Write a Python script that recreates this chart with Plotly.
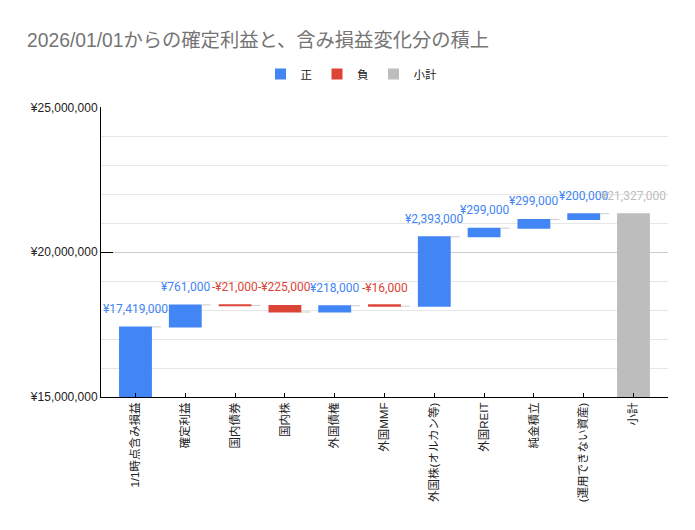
import plotly.graph_objects as go

categories = ["1/1時点含み損益", "確定利益", "国内債券", "国内株", "外国債権", "外国MMF",
              "外国株(オルカン等)", "外国REIT", "純金積立", "(運用できない資産)", "小計"]
values = [17419000, 761000, -21000, -225000, 218000, -16000, 2393000, 299000, 299000, 200000, 0]
measures = ["relative"] * 10 + ["total"]

BLUE = "#4285F4"
RED = "#DB4437"
GREY = "#BDBDBD"
FONT = "Roboto, Noto Sans CJK JP, sans-serif"
TITLEFONT = "Liberation Sans, Noto Sans CJK JP, sans-serif"
TICKFONT = "Liberation Sans, Noto Sans CJK JP, sans-serif"

# the page body has an 8px margin, so the figure is a bit smaller than the window
W, H = 687, 522


def yen(v):
    return ("-" if v < 0 else "") + "¥{:,}".format(abs(v))


fig = go.Figure()
fig.add_trace(go.Waterfall(
    x=categories, y=values, measure=measures, showlegend=False,
    increasing=dict(marker=dict(color=BLUE)),
    decreasing=dict(marker=dict(color=RED)),
    totals=dict(marker=dict(color=GREY)),
    connector=dict(line=dict(color="#cccccc", width=1, dash="dash")),
    hoverinfo="skip",
))

# dummy entries for the legend
for name, col in [("正", BLUE), ("負", RED), ("小計", GREY)]:
    fig.add_trace(go.Scatter(x=[None], y=[None], mode="markers", name=name,
                             marker=dict(symbol="square", size=11, color=col)))

# data labels above each bar
annos = []
running = 0
for cat, v, m in zip(categories, values, measures):
    if m == "total":
        top, txt, col = running, yen(running), GREY
    else:
        top = max(running, running + v)
        txt = yen(v)
        col = BLUE if v >= 0 else RED
        running += v
    annos.append(dict(x=cat, y=top, text=txt, showarrow=False, yanchor="bottom",
                      yshift=9, font=dict(family=FONT, size=12, color=col)))

fig.update_layout(
    width=W, height=H,
    margin=dict(l=93, r=27, t=98, b=133),
    paper_bgcolor="white", plot_bgcolor="white",
    waterfallgap=0.34,
    title=dict(text="2026/01/01からの確定利益と、含み損益変化分の積上",
               x=19 / W, xanchor="left", xref="container",
               y=1 - 32 / H, yanchor="middle", yref="container",
               font=dict(family=TITLEFONT, size=19.3, color="#757575")),
    legend=dict(orientation="h", x=0.5, xanchor="center", xref="container",
                y=1 - 66 / H, yanchor="middle", yref="container",
                font=dict(family=TICKFONT, size=11.5, color="#222222"),
                itemclick=False),
    annotations=annos,
)
fig.update_yaxes(range=[15000000, 25000000], dtick=5000000, tickprefix="¥", tickformat=",d",
                 showline=True, linecolor="#000000", linewidth=1,
                 ticks="inside", ticklen=12, tickcolor="#000000",
                 showgrid=True, gridcolor="#cccccc", zeroline=False,
                 minor=dict(dtick=1000000, showgrid=True, gridcolor="#e6e6e6", ticks=""),
                 tickfont=dict(family=TICKFONT, size=12, color="#222222"))
fig.update_xaxes(showline=True, linecolor="#000000", linewidth=1,
                 ticks="inside", ticklen=4, tickcolor="#000000", tickangle=-90,
                 showgrid=False,
                 tickfont=dict(family=TICKFONT, size=11.5, color="#222222"))

fig.write_html("out.html")
